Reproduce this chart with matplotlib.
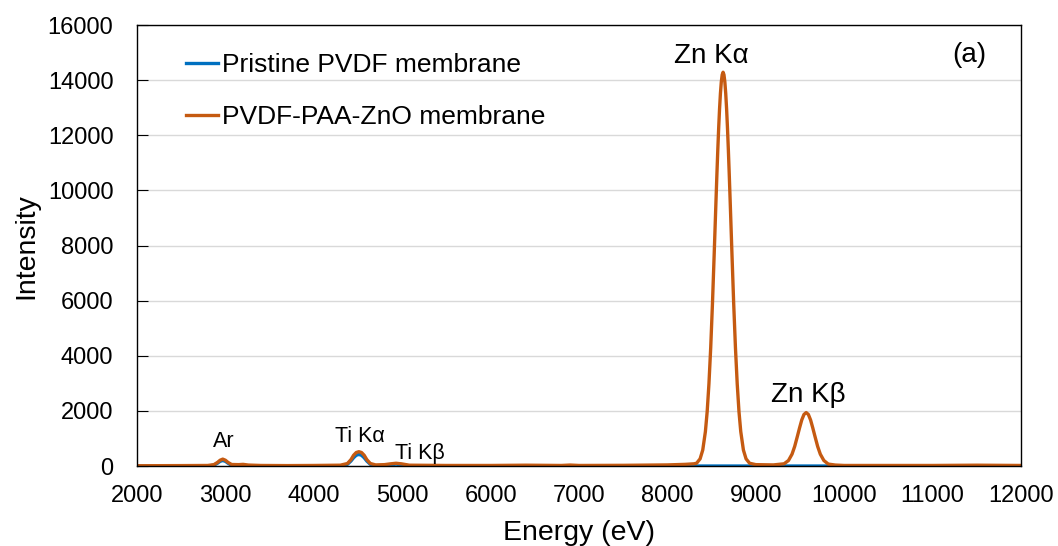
import matplotlib.pyplot as plt
import numpy as np

plt.rcParams['font.family'] = ['Liberation Sans', 'DejaVu Sans']

# EDX spectrum
energy_zno = [2000, 2500, 2800, 2870, 2910, 2940, 2970, 3000, 3030, 3070, 3150, 3200, 3260, 3400, 3700,
              4000, 4300, 4380, 4420, 4450, 4480, 4510, 4540, 4570, 4600, 4640, 4700, 4800, 4870, 4930,
              4990, 5080, 5500, 6000, 6400, 6800, 6900, 7000, 7500, 8000, 8200, 8300,
              8330, 8370, 8400, 8430, 8450, 8470, 8490, 8510, 8530, 8550, 8560, 8570, 8580,
              8590, 8600, 8610, 8620, 8630, 8640, 8650, 8660, 8670, 8680, 8690, 8700,
              8710, 8730, 8750, 8770, 8790, 8810, 8830, 8860, 8890, 8930, 9000,
              9200, 9320, 9370, 9410, 9440, 9470, 9495, 9520, 9545, 9570, 9595, 9620,
              9645, 9670, 9700, 9730, 9770, 9820, 9900, 10000, 11000, 11500, 12000]
intensity_zno = [10, 15, 20, 50, 130, 210, 250, 210, 130, 55, 50, 60, 35, 20, 15,
                 20, 30, 90, 230, 390, 490, 520, 490, 390, 230, 90, 40, 50, 80, 100,
                 80, 30, 20, 20, 30, 20, 35, 20, 25, 40, 60, 80,
                 100, 260, 580, 1250, 1970, 2980, 4290, 5900, 7740, 9640, 10570, 11450, 12250,
                 12950, 13520, 13940, 14200, 14290, 14200, 13940, 13520, 12950, 12250, 11450, 10570,
                 9640, 7740, 5900, 4290, 2980, 1970, 1250, 580, 260, 100, 50,
                 40, 80, 200, 430, 710, 1070, 1380, 1670, 1870, 1940, 1870, 1670,
                 1380, 1070, 710, 430, 200, 70, 35, 20, 20, 30, 20]

energy_pvdf = [2000, 2800, 2870, 2910, 2940, 2970, 3000, 3030, 3070, 3200, 4300, 4380, 4420,
               4450, 4480, 4510, 4540, 4570, 4600, 4640, 4700, 4870, 4930, 4990, 5100, 12000]
intensity_pvdf = [0, 0, 30, 100, 170, 200, 170, 100, 25, 0, 0, 60, 180,
                  300, 390, 420, 390, 300, 180, 60, 5, 40, 70, 40, 0, 0]

peak_labels = ["Zn K\u03b1", "Zn K\u03b2", "Ar", "Ti K\u03b1", "Ti K\u03b2"]
peak_x = [8500, 9590, 2985, 4520, 5200]
peak_y = [14880, 2580, 900, 1060, 470]
peak_size = [20, 20, 15.5, 15.5, 15.5]

fig = plt.figure(figsize=(10.58, 5.46), dpi=100)
ax = fig.add_axes([0.1295, 0.1465, 0.8355, 0.8075])

ax.plot(energy_pvdf, intensity_pvdf, color='#0070c0', lw=2.4, label='Pristine PVDF membrane')
ax.plot(energy_zno, intensity_zno, color='#c55a11', lw=2.4, label='PVDF-PAA-ZnO membrane')

for lab, x, y, s in zip(peak_labels, peak_x, peak_y, peak_size):
    ax.text(x, y, lab, ha='center', va='center', fontsize=s)
ax.text(11410, 14900, "(a)", ha='center', va='center', fontsize=20)

ax.set_xlim(2000, 12000)
ax.set_ylim(0, 16000)
ax.set_xticks(np.arange(2000, 12001, 1000))
ax.set_yticks(np.arange(0, 16001, 2000))
ax.grid(axis='y', color='#d9d9d9', lw=1)
ax.set_axisbelow(True)
ax.tick_params(axis='y', direction='in', length=8, labelsize=17, pad=17)
ax.tick_params(axis='x', length=0, labelsize=17, pad=14)
for s in ax.spines.values():
    s.set_color('black')
    s.set_linewidth(1)

ax.set_xlabel('Energy (eV)', fontsize=20.5, labelpad=9)
ax.set_ylabel('Intensity', fontsize=20.5, labelpad=6)

ax.legend(loc='upper left', bbox_to_anchor=(0.028, 0.99), frameon=False, fontsize=19,
          handlelength=1.25, handletextpad=0.15, labelspacing=1.05)

fig.savefig('out.png', dpi=100)
